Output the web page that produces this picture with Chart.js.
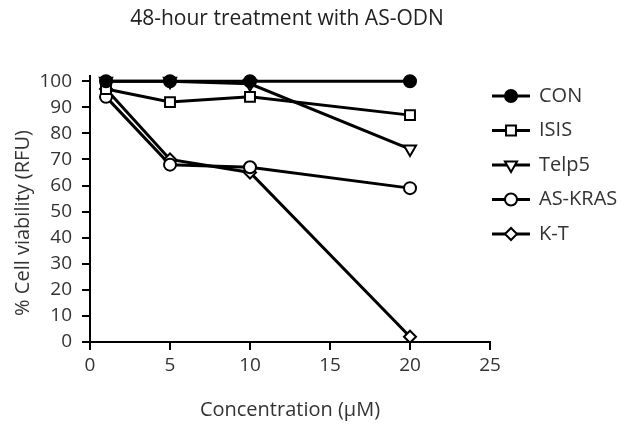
<!DOCTYPE html>
<html>
<head>
<meta charset="utf-8">
<script src="https://cdn.jsdelivr.net/npm/chart.js@4.4.1/dist/chart.umd.min.js"></script>
<style>
  html, body { margin: 0; padding: 0; background: #fff; }
  canvas { display: block; }
</style>
</head>
<body>
<canvas id="chart" width="632" height="428"></canvas>
<script>
// values
const concentrations = [1, 5, 10, 20]
const seriesNames = ['CON', 'ISIS', 'Telp5', 'AS-KRAS', 'K-T']
const conValues = [100, 100, 100, 100]
const isisValues = [97, 92, 94, 87]
const telp5Values = [100, 100, 99, 74]
const askrasValues = [94, 68, 67, 59]
const ktValues = [97, 70, 65, 2]
const xTicks = [0, 5, 10, 15, 20, 25]
const yTicks = [0, 10, 20, 30, 40, 50, 60, 70, 80, 90, 100]

const FONT = '"Open Sans", "DejaVu Sans", sans-serif'
const TEXT = '#333'

const markers = [
    { pointStyle: 'circle', radius: 6, fill: '#000', rotation: 0 },
    { pointStyle: 'rect', radius: 7, fill: '#fff', rotation: 0 },
    { pointStyle: 'triangle', radius: 7, fill: '#fff', rotation: 180 },
    { pointStyle: 'circle', radius: 6, fill: '#fff', rotation: 0 },
    { pointStyle: 'rectRot', radius: 6, fill: '#fff', rotation: 0 }
]

function build_dataset(index, values) {
    const m = markers[index]
    return {
        label: seriesNames[index],
        data: concentrations.map((x, i) => ({ x: x, y: values[i] })),
        borderColor: '#000',
        borderWidth: 3,
        tension: 0,
        pointStyle: m.pointStyle,
        pointRadius: m.radius,
        pointRotation: m.rotation,
        pointBackgroundColor: m.fill,
        pointBorderColor: '#000',
        pointBorderWidth: 2,
        pointHoverRadius: m.radius,
        clip: false
    }
}

// titles and the line+marker legend drawn on top of the chart
const decorations = {
    id: 'decorations',
    afterDraw(chart) {
        const ctx = chart.ctx
        ctx.save()
        ctx.fillStyle = '#222'
        ctx.font = '21px ' + FONT
        ctx.textAlign = 'center'
        ctx.textBaseline = 'middle'
        ctx.fillText('48-hour treatment with AS-ODN', 287, 19)

        ctx.fillStyle = TEXT
        ctx.font = '20px ' + FONT
        ctx.save()
        ctx.translate(23, 223)
        ctx.rotate(-Math.PI / 2)
        ctx.fillText('% Cell viability (RFU)', 0, 0)
        ctx.restore()

        chart.data.datasets.forEach((ds, i) => {
            const y = 96 + i * 34.5
            ctx.strokeStyle = '#000'
            ctx.lineWidth = 3
            ctx.beginPath()
            ctx.moveTo(492, y)
            ctx.lineTo(530, y)
            ctx.stroke()
            ctx.fillStyle = ds.pointBackgroundColor
            ctx.strokeStyle = '#000'
            ctx.lineWidth = 2
            Chart.helpers.drawPoint(ctx, {
                pointStyle: ds.pointStyle,
                radius: ds.pointRadius,
                rotation: ds.pointRotation,
                borderWidth: 2
            }, 511, y)
            ctx.fillStyle = TEXT
            ctx.font = '20px ' + FONT
            ctx.textAlign = 'left'
            ctx.fillText(ds.label, 539, y)
        })
        ctx.restore()
    }
}

new Chart(document.getElementById('chart').getContext('2d'), {
    type: 'line',
    data: {
        datasets: [
            build_dataset(0, conValues),
            build_dataset(1, isisValues),
            build_dataset(2, telp5Values),
            build_dataset(3, askrasValues),
            build_dataset(4, ktValues)
        ]
    },
    plugins: [decorations],
    options: {
        responsive: false,
        animation: false,
        layout: { padding: { top: 76, right: 142, bottom: 4, left: 0 } },
        plugins: { legend: { display: false }, title: { display: false }, tooltip: { enabled: false } },
        scales: {
            x: {
                type: 'linear',
                min: 0,
                max: 25,
                afterBuildTicks: (scale) => { scale.ticks = xTicks.map(v => ({ value: v })) },
                afterFit: (scale) => { scale.height = 82 },
                border: { display: true, color: '#000', width: 2 },
                grid: { drawOnChartArea: false, drawTicks: true, tickLength: 8, color: '#000', lineWidth: 2 },
                ticks: { color: TEXT, font: { family: FONT, size: 19 }, padding: 4, maxRotation: 0 },
                title: { display: true, text: 'Concentration (μM)', color: TEXT, font: { family: FONT, size: 20 }, padding: { top: 2, bottom: 2 } }
            },
            y: {
                type: 'linear',
                min: 0,
                max: 102,
                afterBuildTicks: (scale) => { scale.ticks = yTicks.map(v => ({ value: v })) },
                afterFit: (scale) => { scale.width = 90 },
                border: { display: true, color: '#000', width: 2 },
                grid: { drawOnChartArea: false, drawTicks: true, tickLength: 8, color: '#000', lineWidth: 2 },
                ticks: { color: TEXT, font: { family: FONT, size: 19 }, padding: 10 }
            }
        }
    }
})
</script>
</body>
</html>
